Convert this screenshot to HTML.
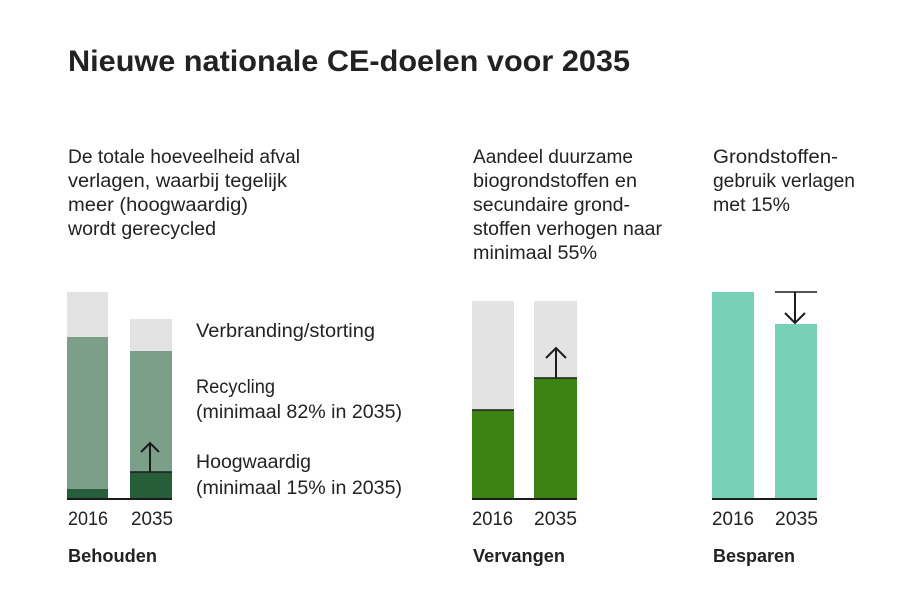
<!DOCTYPE html>
<html><head><meta charset="utf-8"><style>
html,body{margin:0;padding:0;background:#fff;}
svg{display:block;}
text{font-family:"Liberation Sans",sans-serif;fill:#222;}
</style></head><body>
<svg width="900" height="600" viewBox="0 0 900 600" xmlns="http://www.w3.org/2000/svg">
<rect width="900" height="600" fill="#fff"/>
<text x="68" y="71" font-size="30" font-weight="bold" textLength="562" lengthAdjust="spacingAndGlyphs">Nieuwe nationale CE-doelen voor 2035</text>

<g font-size="19">
<text x="68" y="163" textLength="232" lengthAdjust="spacingAndGlyphs">De totale hoeveelheid afval</text>
<text x="68" y="187" textLength="219" lengthAdjust="spacingAndGlyphs">verlagen, waarbij tegelijk</text>
<text x="68" y="211" textLength="180" lengthAdjust="spacingAndGlyphs">meer (hoogwaardig)</text>
<text x="68" y="235" textLength="148" lengthAdjust="spacingAndGlyphs">wordt gerecycled</text>

<text x="473" y="163" textLength="160" lengthAdjust="spacingAndGlyphs">Aandeel duurzame</text>
<text x="473" y="187" textLength="164" lengthAdjust="spacingAndGlyphs">biogrondstoffen en</text>
<text x="473" y="211" textLength="157" lengthAdjust="spacingAndGlyphs">secundaire grond-</text>
<text x="473" y="235" textLength="189" lengthAdjust="spacingAndGlyphs">stoffen verhogen naar</text>
<text x="473" y="259" textLength="124" lengthAdjust="spacingAndGlyphs">minimaal 55%</text>

<text x="713" y="163" textLength="125" lengthAdjust="spacingAndGlyphs">Grondstoffen-</text>
<text x="713" y="187" textLength="142" lengthAdjust="spacingAndGlyphs">gebruik verlagen</text>
<text x="713" y="211" textLength="77" lengthAdjust="spacingAndGlyphs">met 15%</text>

<text x="196" y="337" textLength="179" lengthAdjust="spacingAndGlyphs">Verbranding/storting</text>
<text x="196" y="393" textLength="79" lengthAdjust="spacingAndGlyphs">Recycling</text>
<text x="196" y="418" textLength="206" lengthAdjust="spacingAndGlyphs">(minimaal 82% in 2035)</text>
<text x="196" y="468" textLength="115" lengthAdjust="spacingAndGlyphs">Hoogwaardig</text>
<text x="196" y="494" textLength="206" lengthAdjust="spacingAndGlyphs">(minimaal 15% in 2035)</text>

<text x="68" y="525" textLength="40" lengthAdjust="spacingAndGlyphs">2016</text>
<text x="131" y="525" textLength="42" lengthAdjust="spacingAndGlyphs">2035</text>
<text x="472" y="525" textLength="41" lengthAdjust="spacingAndGlyphs">2016</text>
<text x="534" y="525" textLength="43" lengthAdjust="spacingAndGlyphs">2035</text>
<text x="712" y="525" textLength="42" lengthAdjust="spacingAndGlyphs">2016</text>
<text x="775" y="525" textLength="43" lengthAdjust="spacingAndGlyphs">2035</text>
</g>
<g font-size="18" font-weight="bold">
<text x="68" y="562" textLength="89" lengthAdjust="spacingAndGlyphs">Behouden</text>
<text x="473" y="562" textLength="92" lengthAdjust="spacingAndGlyphs">Vervangen</text>
<text x="713" y="562" textLength="82" lengthAdjust="spacingAndGlyphs">Besparen</text>
</g>

<rect x="67" y="292" width="41" height="45" fill="#e3e3e3"/>
<rect x="67" y="337" width="41" height="152" fill="#7b9f88"/>
<rect x="67" y="489" width="41" height="10" fill="#275e3a"/>
<rect x="130" y="319" width="42" height="32" fill="#e3e3e3"/>
<rect x="130" y="351" width="42" height="121" fill="#7b9f88"/>
<rect x="130" y="472" width="42" height="27" fill="#275e3a"/>
<line x1="130" y1="472" x2="172" y2="472" stroke="#1c1c1c" stroke-width="1.5"/>
<line x1="67" y1="499" x2="172" y2="499" stroke="#1c1c1c" stroke-width="2"/>
<line x1="150" y1="472" x2="150" y2="443" stroke="#1c1c1c" stroke-width="2"/>
<polyline points="141,452 150,443 159,452" fill="none" stroke="#1c1c1c" stroke-width="2"/>

<rect x="472" y="301" width="42" height="109" fill="#e3e3e3"/>
<rect x="472" y="410" width="42" height="89" fill="#3b8212"/>
<rect x="534" y="301" width="43" height="77" fill="#e3e3e3"/>
<rect x="534" y="378" width="43" height="121" fill="#3b8212"/>
<line x1="472" y1="410" x2="514" y2="410" stroke="#1c1c1c" stroke-width="1.5"/>
<line x1="534" y1="378" x2="577" y2="378" stroke="#1c1c1c" stroke-width="1.5"/>
<line x1="472" y1="499" x2="577" y2="499" stroke="#1c1c1c" stroke-width="2"/>
<line x1="556" y1="378" x2="556" y2="348" stroke="#1c1c1c" stroke-width="2"/>
<polyline points="546,358 556,348 566,358" fill="none" stroke="#1c1c1c" stroke-width="2"/>

<rect x="712" y="292" width="42" height="207" fill="#76d1b6"/>
<rect x="775" y="324" width="42" height="175" fill="#76d1b6"/>
<line x1="775" y1="292" x2="817" y2="292" stroke="#1c1c1c" stroke-width="1.5"/>
<line x1="712" y1="499" x2="817" y2="499" stroke="#1c1c1c" stroke-width="2"/>
<line x1="795" y1="292" x2="795" y2="323" stroke="#1c1c1c" stroke-width="2"/>
<polyline points="785,313 795,323 805,313" fill="none" stroke="#1c1c1c" stroke-width="2"/>
</svg>
</body></html>
